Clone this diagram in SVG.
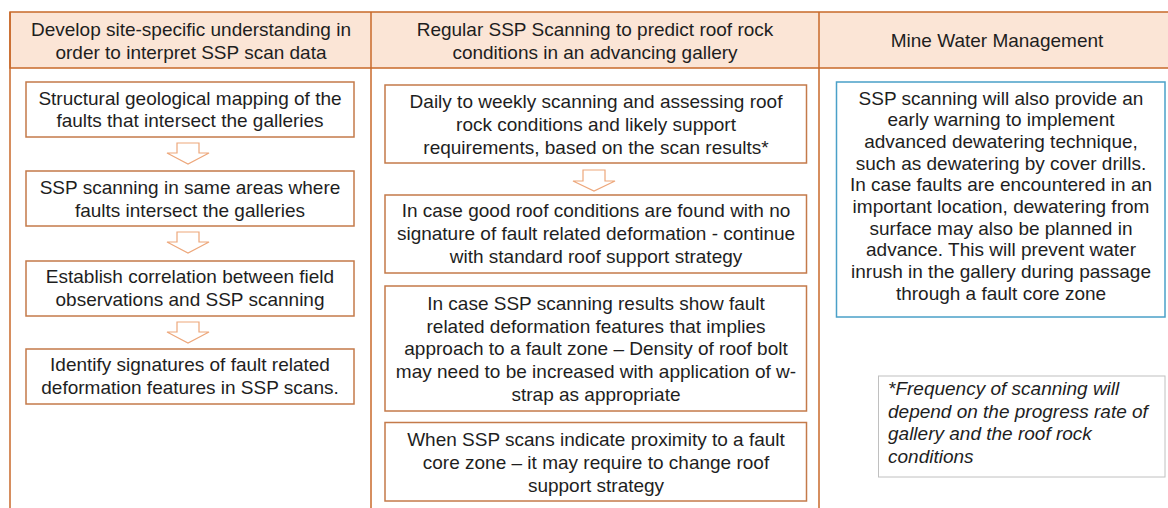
<svg xmlns="http://www.w3.org/2000/svg" width="1168" height="508" viewBox="0 0 1168 508">
  <style>
    text { font-family: "Liberation Sans", Arial, sans-serif; font-size: 19px; fill: #1e1e1e; }
    .c { text-anchor: middle; }
    .hdr { fill: #fbe5d6; stroke: #c8692a; stroke-width: 1.5; }
    .col { stroke: #c8692a; stroke-width: 1.5; fill: none; }
    .box { fill: #ffffff; stroke: #c47a4a; stroke-width: 1.5; }
    .blue { fill: #ffffff; stroke: #4aa0c8; stroke-width: 1.5; }
    .note { fill: #ffffff; stroke: #c0c0c0; stroke-width: 1; }
    .arrow { fill: #ffffff; stroke: #eda77b; stroke-width: 1.2; }
    .it { font-style: italic; }
  </style>

  <rect width="1168" height="508" fill="#ffffff"/>

  <!-- header band -->
  <g id="header">
    <rect class="hdr" x="10" y="12" width="1170" height="56"/>
    <text class="c" x="191" y="36">Develop site-specific understanding in</text>
    <text class="c" x="191" y="58.5">order to interpret SSP scan data</text>
    <text class="c" x="595" y="36">Regular SSP Scanning to predict roof rock</text>
    <text class="c" x="595" y="58.5">conditions in an advancing gallery</text>
    <text class="c" x="997" y="47">Mine Water Management</text>
  </g>

  <!-- column dividers -->
  <g id="columns">
    <line class="col" x1="10" y1="12" x2="10" y2="508"/>
    <line class="col" x1="371" y1="12" x2="371" y2="508"/>
    <line class="col" x1="819" y1="12" x2="819" y2="508"/>
  </g>

  <!-- flow arrows -->
  <g id="connectors">
    <path class="arrow" d="M177 143 H199 V153 H209 L188 164 L167 153 H177 Z"/>
    <path class="arrow" d="M177 232 H199 V242 H209 L188 253 L167 242 H177 Z"/>
    <path class="arrow" d="M177 322 H199 V332 H209 L188 343 L167 332 H177 Z"/>
    <path class="arrow" d="M583 170 H605 V181 H615 L594 191 L573 181 H583 Z"/>
  </g>

  <!-- left column -->
  <g id="n1">
    <rect class="box" x="26" y="82" width="328" height="55"/>
    <text class="c" x="190" y="105">Structural geological mapping of the</text>
    <text class="c" x="190" y="127">faults that intersect the galleries</text>
  </g>
  <g id="n2">
    <rect class="box" x="26" y="171" width="328" height="55"/>
    <text class="c" x="190" y="194">SSP scanning in same areas where</text>
    <text class="c" x="190" y="216.5">faults intersect the galleries</text>
  </g>
  <g id="n3">
    <rect class="box" x="26" y="261" width="328" height="55"/>
    <text class="c" x="190" y="283">Establish correlation between field</text>
    <text class="c" x="190" y="306">observations and SSP scanning</text>
  </g>
  <g id="n4">
    <rect class="box" x="26" y="349" width="328" height="55"/>
    <text class="c" x="190" y="371">Identify signatures of fault related</text>
    <text class="c" x="190" y="394">deformation features in SSP scans.</text>
  </g>

  <!-- middle column -->
  <g id="m1">
    <rect class="box" x="385" y="85" width="421.5" height="78"/>
    <text class="c" x="596" y="108">Daily to weekly scanning and assessing roof</text>
    <text class="c" x="596" y="131">rock conditions and likely support</text>
    <text class="c" x="596" y="153.5">requirements, based on the scan results*</text>
  </g>
  <g id="m2">
    <rect class="box" x="385" y="195" width="421.5" height="78"/>
    <text class="c" x="596" y="217">In case good roof conditions are found with no</text>
    <text class="c" x="596" y="240">signature of fault related deformation - continue</text>
    <text class="c" x="596" y="263">with standard roof support strategy</text>
  </g>
  <g id="m3">
    <rect class="box" x="385" y="286" width="421.5" height="125"/>
    <text class="c" x="596" y="310">In case SSP scanning results show fault</text>
    <text class="c" x="596" y="332.5">related deformation features that implies</text>
    <text class="c" x="596" y="355">approach to a fault zone – Density of roof bolt</text>
    <text class="c" x="596" y="378">may need to be increased with application of w-</text>
    <text class="c" x="596" y="401">strap as appropriate</text>
  </g>
  <g id="m4">
    <rect class="box" x="385" y="422.5" width="421.5" height="78.5"/>
    <text class="c" x="596" y="446">When SSP scans indicate proximity to a fault</text>
    <text class="c" x="596" y="469">core zone – it may require to change roof</text>
    <text class="c" x="596" y="491.5">support strategy</text>
  </g>

  <!-- right column -->
  <g id="r1">
    <rect class="blue" x="836.5" y="82" width="328.5" height="235"/>
    <text class="c" x="1001" y="104.5">SSP scanning will also provide an</text>
    <text class="c" x="1001" y="126.2">early warning to implement</text>
    <text class="c" x="1001" y="147.9">advanced dewatering technique,</text>
    <text class="c" x="1001" y="169.6">such as dewatering by cover drills.</text>
    <text class="c" x="1001" y="191.3">In case faults are encountered in an</text>
    <text class="c" x="1001" y="213">important location, dewatering from</text>
    <text class="c" x="1001" y="234.7">surface may also be planned in</text>
    <text class="c" x="1001" y="256.4">advance. This will prevent water</text>
    <text class="c" x="1001" y="278.1">inrush in the gallery during passage</text>
    <text class="c" x="1001" y="299.8">through a fault core zone</text>
  </g>
  <g id="r2">
    <rect class="note" x="878.5" y="376" width="286.5" height="101"/>
    <text class="it" x="888" y="395">*Frequency of scanning will</text>
    <text class="it" x="888" y="417.5">depend on the progress rate of</text>
    <text class="it" x="888" y="440">gallery and the roof rock</text>
    <text class="it" x="888" y="462.5">conditions</text>
  </g>
</svg>
